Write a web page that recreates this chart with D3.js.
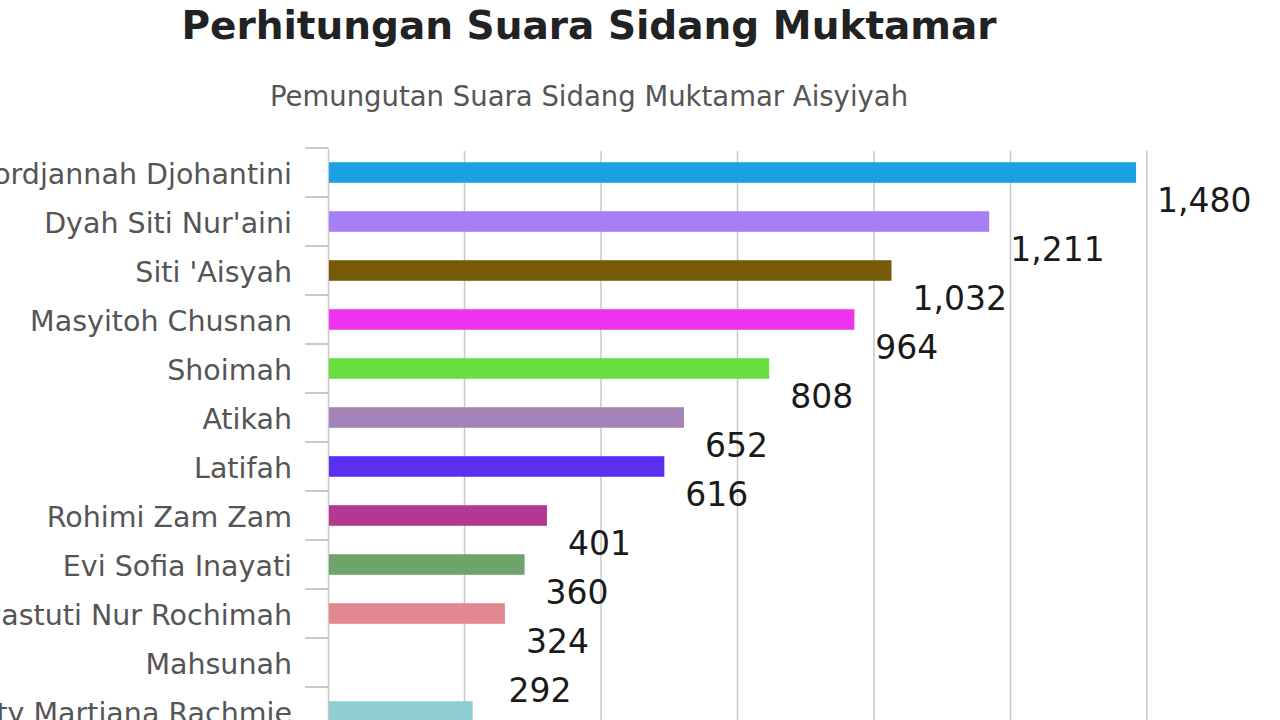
<!DOCTYPE html>
<meta charset="utf-8">
<script src="https://d3js.org/d3.v7.min.js"></script>
<style>
  body { margin: 0; background: #fff; }
</style>
<div id="chart"></div>
<script>

// candidates, top to bottom
var names = [
  "Siti Noordjannah Djohantini",
  "Dyah Siti Nur'aini",
  "Siti 'Aisyah",
  "Masyitoh Chusnan",
  "Shoimah",
  "Atikah",
  "Latifah",
  "Rohimi Zam Zam",
  "Evi Sofia Inayati",
  "Widyastuti Nur Rochimah",
  "Mahsunah",
  "Hetty Martiana Rachmie"
];
var votes = [1480, 1211, 1032, 964, 808, 652, 616, 401, 360, 324, 292, 265];
var barColors = ["#1ba0e2", "#a57ff3", "#775a08", "#f033ef", "#68de3f", "#a483b8",
                 "#5a2ff0", "#b3388f", "#6da46b", "#e0878f", "#ffffff", "#8fcdd5"];
var gridTicks = [250, 500, 750, 1000, 1250, 1500];

var W = 1280, H = 720;

var svg = d3.select("#chart")
  .append("svg")
    .attr("width", W)
    .attr("height", H)
    .style("font-family", "'DejaVu Sans', Verdana, sans-serif");

// titles
svg.append("text")
  .attr("x", 589)
  .attr("y", 39)
  .attr("text-anchor", "middle")
  .style("font-size", "39px")
  .style("font-weight", "bold")
  .attr("fill", "#222")
  .text("Perhitungan Suara Sidang Muktamar");

svg.append("text")
  .attr("x", 589)
  .attr("y", 106)
  .attr("text-anchor", "middle")
  .style("font-size", "27.5px")
  .attr("fill", "#555")
  .text("Pemungutan Suara Sidang Muktamar Aisyiyah");

// scales
var x = d3.scaleLinear()
  .domain([0, 1500])
  .range([328, 1147]);

var y = d3.scaleBand()
  .domain(names)
  .range([148, 148 + 12 * 49])
  .paddingInner(0.58)
  .paddingOuter(0.29);

// vertical grid lines
svg.append("g")
  .selectAll("line")
  .data(gridTicks)
  .enter().append("line")
    .attr("x1", function(d) { return x(d); })
    .attr("x2", function(d) { return x(d); })
    .attr("y1", 151)
    .attr("y2", H)
    .attr("stroke", "#c8c8c8")
    .attr("stroke-width", 1.5);

// y axis: labels from d3 axis, ticks at band boundaries
var yAxis = svg.append("g")
  .attr("transform", "translate(" + x(0) + ",0)")
  .call(d3.axisLeft(y).tickSize(0).tickPadding(36));
yAxis.select(".domain").attr("stroke", "#c8c8c8").attr("stroke-width", 1.5);
yAxis.selectAll("text")
  .attr("dy", "0.4em")
  .style("font-size", "28.5px")
  .style("font-family", "'DejaVu Sans', Verdana, sans-serif")
  .attr("fill", "#555");

svg.append("g")
  .selectAll("line")
  .data(names)
  .enter().append("line")
    .attr("x1", x(0) - 23)
    .attr("x2", x(0))
    .attr("y1", function(d) { return y(d) + y.bandwidth() / 2 - y.step() / 2; })
    .attr("y2", function(d) { return y(d) + y.bandwidth() / 2 - y.step() / 2; })
    .attr("stroke", "#b8b8b8")
    .attr("stroke-width", 1.5);

// bars
svg.append("g")
  .selectAll("rect")
  .data(names)
  .enter().append("rect")
    .attr("x", x(0) + 1)
    .attr("y", function(d) { return y(d); })
    .attr("width", function(d, i) { return x(votes[i]) - x(0) - 1; })
    .attr("height", y.bandwidth())
    .attr("fill", function(d, i) { return barColors[i]; })
    .attr("fill-opacity", function(d, i) { return barColors[i] === "#ffffff" ? 0 : 1; });

// value labels, below-right of each bar end
svg.append("g")
  .selectAll("text")
  .data(names)
  .enter().append("text")
    .attr("x", function(d, i) { return x(votes[i]) + 21; })
    .attr("y", function(d) { return y(d) + y.bandwidth() / 2 + 39; })
    .style("font-size", "33px")
    .attr("fill", "#1a1a1a")
    .text(function(d, i) { return d3.format(",")(votes[i]); });

</script>
